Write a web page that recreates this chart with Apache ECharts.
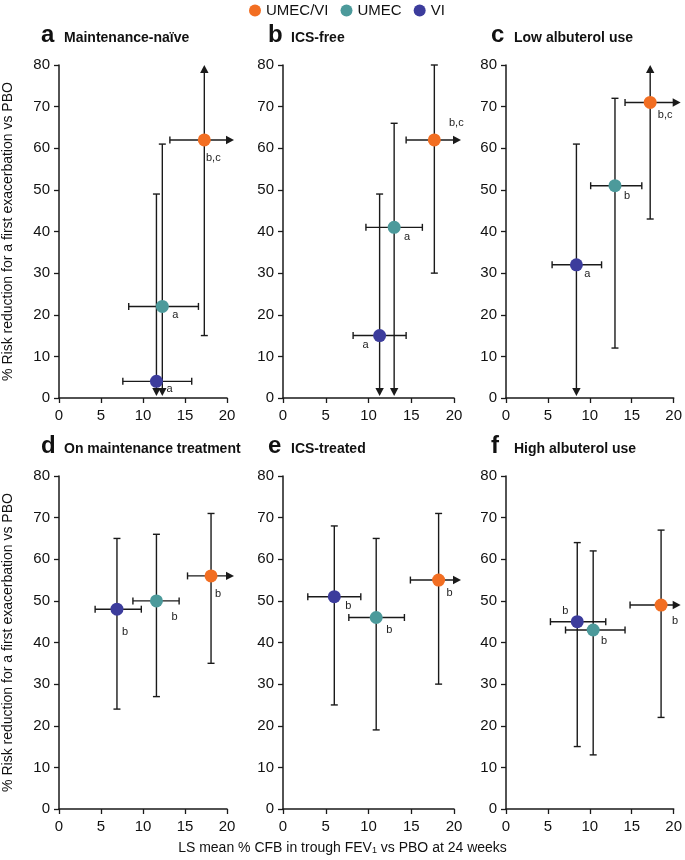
<!DOCTYPE html>
<html>
<head>
<meta charset="utf-8">
<script src="https://cdn.jsdelivr.net/npm/echarts@6/dist/echarts.min.js"></script>
<style>
html,body{margin:0;padding:0;background:#fff;}
#c{width:685px;height:860px;}
</style>
</head>
<body>
<div id="c"></div>
<script>
// ---------- data ----------
const panelLetters = ['a', 'b', 'c', 'd', 'e', 'f'];
const panelTitles = ['Maintenance-naïve', 'ICS-free', 'Low albuterol use', 'On maintenance treatment', 'ICS-treated', 'High albuterol use'];
const treatments = ['UMEC/VI', 'UMEC', 'VI'];
const xTicks = [0, 5, 10, 15, 20];
const yTicks = [0, 10, 20, 30, 40, 50, 60, 70, 80];

// null = confidence limit beyond the axis (drawn as an arrow)
const umecviX   = [17.3, 17.7, 17.2, 18.1, 18.2, 18.5];
const umecviXLo = [13.2, 14.4, 14.2, 15.3, 14.9, 14.8];
const umecviXHi = [null, null, null, null, null, null];
const umecviY   = [62, 62, 71, 56, 55, 49];
const umecviYLo = [15, 30, 43, 35, 30, 22];
const umecviYHi = [null, 80, null, 71, 71, 67];
const umecviSig = ['b,c', 'b,c', 'b,c', 'b', 'b', 'b'];

const umecX   = [12.3, 13.0, 13.0, 11.6, 10.9, 10.4];
const umecXLo = [8.3, 9.7, 10.1, 8.8, 7.7, 7.1];
const umecXHi = [16.6, 16.3, 16.2, 14.3, 14.2, 14.2];
const umecY   = [22, 41, 51, 50, 46, 43];
const umecYLo = [null, null, 12, 27, 19, 13];
const umecYHi = [61, 66, 72, 66, 65, 62];
const umecSig = ['a', 'a', 'b', 'b', 'b', 'b'];

const viX   = [11.6, 11.3, 8.4, 6.9, 6.0, 8.5];
const viXLo = [7.6, 8.2, 5.5, 4.3, 2.9, 5.3];
const viXHi = [15.8, 14.4, 11.4, 9.8, 9.1, 11.9];
const viY   = [4, 15, 32, 48, 51, 45];
const viYLo = [null, null, null, 24, 25, 15];
const viYHi = [49, 49, 61, 65, 68, 64];
const viSig = ['a', 'a', 'a', 'b', 'b', 'b'];

// ---------- layout / style ----------
const colors = ['#F26E22', '#4C9A9B', '#3C3C9C'];
// label offsets (px) relative to point, per treatment per panel
const sigOffsets = [
  [[9, 18], [22, -17], [15, 13], [7, 18], [11, 13], [14, 16]],
  [[13, 9], [13, 10], [12, 10], [18, 16], [13, 12], [11, 11]],
  [[13, 8], [-14, 9], [11, 9], [8, 23], [14, 9], [-12, -11]]
];
const FONT = '"Liberation Sans", Arial, Helvetica, sans-serif';
const lefts = [56, 283, 506], tops = [65, 476], GW = 171, GH = 333;
const INK = '#1a1a1a';

const sets = [
  {x: umecviX, xl: umecviXLo, xh: umecviXHi, y: umecviY, yl: umecviYLo, yh: umecviYHi, s: umecviSig},
  {x: umecX, xl: umecXLo, xh: umecXHi, y: umecY, yl: umecYLo, yh: umecYHi, s: umecSig},
  {x: viX, xl: viXLo, xh: viXHi, y: viY, yl: viYLo, yh: viYHi, s: viSig}
];
const xMin = xTicks[0], xMax = xTicks[xTicks.length - 1], xInt = xTicks[1] - xTicks[0];
const yMin = yTicks[0], yMax = yTicks[yTicks.length - 1], yInt = yTicks[1] - yTicks[0];

const grids = [], xAxes = [], yAxes = [], series = [], graphics = [];
for (let p = 0; p < 6; p++) {
  const left = lefts[p % 3], top = tops[Math.floor(p / 3)];
  grids.push({left: left, top: top, width: GW, height: GH, containLabel: false});
  xAxes.push({
    gridIndex: p, type: 'value', min: xMin, max: xMax, interval: xInt,
    axisLine: {show: true, onZero: false, lineStyle: {color: INK, width: 1.5}},
    axisTick: {show: true, inside: false, length: 5, lineStyle: {color: INK, width: 1.3}},
    axisLabel: {fontSize: 15, color: '#111', fontFamily: FONT, margin: 10},
    splitLine: {show: false}
  });
  const yA = {
    gridIndex: p, type: 'value', min: yMin, max: yMax, interval: yInt,
    axisLine: {show: true, onZero: false, lineStyle: {color: INK, width: 1.5}},
    axisTick: {show: true, inside: false, length: 5, lineStyle: {color: INK, width: 1.3}},
    axisLabel: {fontSize: 15, color: '#111', fontFamily: FONT, margin: 9},
    splitLine: {show: false}
  };
  if (p % 3 === 0) {
    yA.name = '% Risk reduction for a first exacerbation vs PBO';
    yA.nameLocation = 'middle';
    yA.nameRotate = 90;
    yA.nameGap = 44;
    yA.nameTextStyle = {fontSize: 14, color: '#111', fontFamily: FONT};
  }
  yAxes.push(yA);

  // error bars + significance labels
  const recs = sets.map((d, t) => ({
    x: d.x[p], xl: d.xl[p], xh: d.xh[p], y: d.y[p], yl: d.yl[p], yh: d.yh[p], s: d.s[p], off: sigOffsets[t][p]
  }));
  series.push({
    type: 'custom', xAxisIndex: p, yAxisIndex: p, z: 2, silent: true, clip: false,
    data: recs.map(r => [r.x, r.y]),
    renderItem: function (params, api) {
      const r = recs[params.dataIndex];
      const c = api.coord([r.x, r.y]);
      const ls = {stroke: INK, lineWidth: 1.4};
      const ch = [];
      const cap = 3.5, ah = 4.2, al = 8;
      // horizontal
      const xl = api.coord([r.xl, r.y])[0];
      if (r.xh == null) {
        const xe = api.coord([xMax, r.y])[0];
        ch.push({type: 'line', shape: {x1: xl, y1: c[1], x2: xe, y2: c[1]}, style: ls});
        ch.push({type: 'polygon', shape: {points: [[xe - 1, c[1] - ah], [xe + al - 1, c[1]], [xe - 1, c[1] + ah]]}, style: {fill: INK}});
      } else {
        const xh = api.coord([r.xh, r.y])[0];
        ch.push({type: 'line', shape: {x1: xl, y1: c[1], x2: xh, y2: c[1]}, style: ls});
        ch.push({type: 'line', shape: {x1: xh, y1: c[1] - cap, x2: xh, y2: c[1] + cap}, style: ls});
      }
      ch.push({type: 'line', shape: {x1: xl, y1: c[1] - cap, x2: xl, y2: c[1] + cap}, style: ls});
      // vertical upper
      if (r.yh == null) {
        const yt = api.coord([r.x, yMax])[1];
        ch.push({type: 'line', shape: {x1: c[0], y1: c[1], x2: c[0], y2: yt + al}, style: ls});
        ch.push({type: 'polygon', shape: {points: [[c[0] - ah, yt + al], [c[0], yt], [c[0] + ah, yt + al]]}, style: {fill: INK}});
      } else {
        const yt = api.coord([r.x, r.yh])[1];
        ch.push({type: 'line', shape: {x1: c[0], y1: c[1], x2: c[0], y2: yt}, style: ls});
        ch.push({type: 'line', shape: {x1: c[0] - cap, y1: yt, x2: c[0] + cap, y2: yt}, style: ls});
      }
      // vertical lower
      if (r.yl == null) {
        const yb = api.coord([r.x, yMin])[1] - 2;
        ch.push({type: 'line', shape: {x1: c[0], y1: c[1], x2: c[0], y2: yb - al}, style: ls});
        ch.push({type: 'polygon', shape: {points: [[c[0] - ah, yb - al], [c[0], yb], [c[0] + ah, yb - al]]}, style: {fill: INK}});
      } else {
        const yb = api.coord([r.x, r.yl])[1];
        ch.push({type: 'line', shape: {x1: c[0], y1: c[1], x2: c[0], y2: yb}, style: ls});
        ch.push({type: 'line', shape: {x1: c[0] - cap, y1: yb, x2: c[0] + cap, y2: yb}, style: ls});
      }
      ch.push({type: 'text', x: c[0] + r.off[0], y: c[1] + r.off[1], z2: 10,
        style: {text: r.s, fontSize: 11, fill: '#222', fontFamily: FONT, align: 'center', verticalAlign: 'middle'}});
      return {type: 'group', children: ch};
    }
  });
  // points
  sets.forEach((d, t) => {
    series.push({
      type: 'scatter', name: treatments[t], xAxisIndex: p, yAxisIndex: p, z: 5,
      symbol: 'circle', symbolSize: 13, itemStyle: {color: colors[t], opacity: 1},
      data: [[d.x[p], d.y[p]]]
    });
  });

  // panel titles
  const row = Math.floor(p / 3);
  const base = row === 0 ? 46 : 457;
  graphics.push({type: 'text', x: left - 15, y: base + 1, style: {text: panelLetters[p], font: 'bold 24px ' + FONT, fill: '#111', verticalAlign: 'bottom'}});
  graphics.push({type: 'text', x: left + 8, y: base - 0.5, style: {text: panelTitles[p], font: 'bold 14px ' + FONT, fill: '#111', verticalAlign: 'bottom'}});
}

graphics.push({
  type: 'text', left: 'center', top: 841,
  style: {
    text: 'LS mean % CFB in trough FEV{s|1} vs PBO at 24 weeks',
    fontSize: 14, fill: '#111', fontFamily: FONT,
    rich: {s: {fontSize: 9, fill: '#111', fontFamily: FONT, verticalAlign: 'bottom', padding: [6, 0, 0, 0]}}
  }
});

const chart = echarts.init(document.getElementById('c'), null, {renderer: 'canvas'});
chart.setOption({
  animation: false,
  backgroundColor: '#fff',
  textStyle: {fontFamily: FONT},
  legend: {
    data: treatments, left: 244, top: -2, icon: 'circle', itemWidth: 12, itemHeight: 12, itemGap: 12,
    textStyle: {fontSize: 15, color: '#111', fontFamily: FONT}, selectedMode: false
  },
  grid: grids, xAxis: xAxes, yAxis: yAxes, series: series, graphic: graphics
});
</script>
</body>
</html>
